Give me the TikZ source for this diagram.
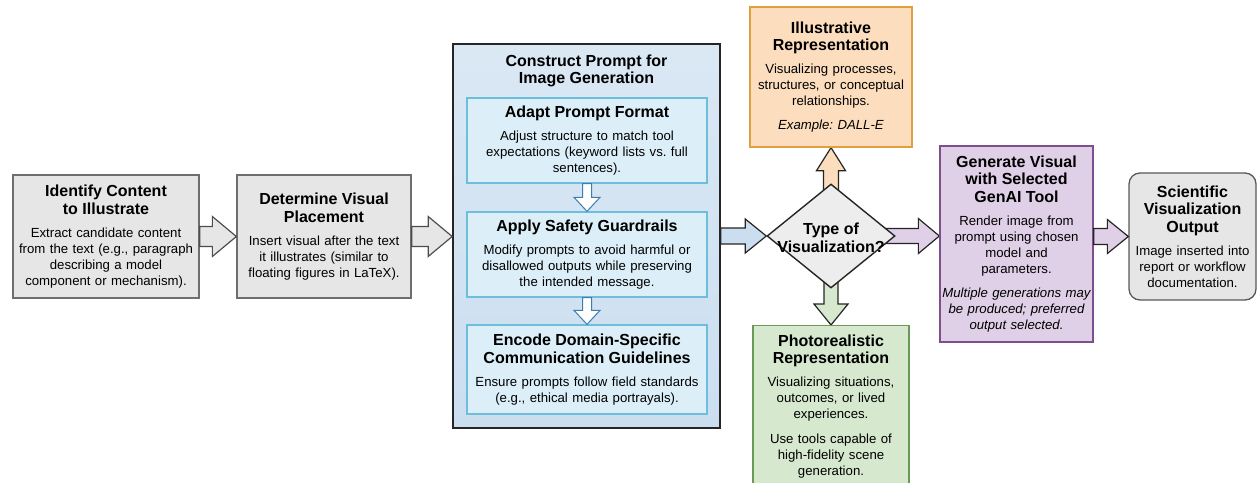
\documentclass[tikz,border=0pt]{standalone}
\usepackage{fontspec}
\setmainfont{Liberation Sans}
\usetikzlibrary{calc, shapes.geometric, backgrounds}

\definecolor{gr1}{HTML}{E6E6E6}
\definecolor{gr2}{HTML}{6E6E6E}
\definecolor{bl1}{HTML}{CBDEF0}
\definecolor{bl2}{HTML}{DCEFF8}
\definecolor{bl3}{HTML}{6CBEDA}
\definecolor{bl4}{HTML}{3C7FB0}
\definecolor{or1}{HTML}{FCDDBE}
\definecolor{or2}{HTML}{E0A040}
\definecolor{gn1}{HTML}{D6E9CF}
\definecolor{gn2}{HTML}{6A9A58}
\definecolor{pu1}{HTML}{DFD0E7}
\definecolor{pu2}{HTML}{7E4E8E}
\definecolor{dk}{HTML}{252525}

\newcommand{\hd}[1]{{\fontsize{16}{17.5}\selectfont\bfseries #1\par}\vspace{7pt}}

% block arrow: style, from, to, shaft half width, head half width, head length
\newcommand{\blockarrow}[6]{%
  \path coordinate (ah) at ($(#3)!#6pt!(#2)$);
  \draw[#1] ($(#2)!#4pt!90:(#3)$) -- ($(ah)!#4pt!90:(#3)$) -- ($(ah)!#5pt!90:(#3)$)
    -- (#3) -- ($(ah)!#5pt!-90:(#3)$) -- ($(ah)!#4pt!-90:(#3)$) -- ($(#2)!#4pt!-90:(#3)$) -- cycle;
}

\tikzset{
  box/.style={draw, line width=1.3pt, align=center, inner xsep=3pt,
    font=\fontsize{13.2}{16}\selectfont\frenchspacing},
  graybox/.style={box, fill=gr1, draw=gr2},
  innerbox/.style={box, fill=bl2, draw=bl3},
  arr/.style={line width=1.2pt, draw=dk, line join=miter},
  ttl/.style={align=center, font=\fontsize{16}{17.5}\selectfont\bfseries},
}

\begin{document}
\begin{tikzpicture}[x=1pt, y=-1pt]
  \useasboundingbox (0,0) rectangle (1258,482);

  % Left steps
  \node[graybox, text width=180pt, minimum height=123pt] (ident) at (106,236.5)
    {\hd{Identify Content\\to Illustrate}Extract candidate content\\from the text (e.g., paragraph\\describing a model\\component or mechanism).};
  \node[graybox, text width=168pt, minimum height=123pt] (place) at (324,236.5)
    {\hd{Determine Visual\\Placement}Insert visual after the text\\it illustrates (similar to\\floating figures in LaTeX).};

  % Prompt construction
  \node[draw=dk, line width=1.6pt, top color=bl1!70!white, bottom color=bl1,
    minimum width=267pt, minimum height=384pt] (construct) at (586.5,236) {};
  \node[ttl] (constructtitle) at (586.5,71) {Construct Prompt for\\Image Generation};
  \node[innerbox, text width=234pt, minimum height=85pt] (adapt) at (587,140.5)
    {\hd{Adapt Prompt Format}Adjust structure to match tool\\expectations (keyword lists vs. full\\sentences).};
  \node[innerbox, text width=234pt, minimum height=85pt] (safety) at (587,254.5)
    {\hd{Apply Safety Guardrails}Modify prompts to avoid harmful or\\disallowed outputs while preserving\\the intended message.};
  \node[innerbox, text width=234pt, minimum height=89pt] (encode) at (587,369.5)
    {\hd{Encode Domain-Specific\\Communication Guidelines}Ensure prompts follow field standards\\(e.g., ethical media portrayals).};

  % Decision
  \node[diamond, draw=dk, fill=gr1!70!white, line width=1.4pt, inner sep=0pt,
    minimum width=128pt, minimum height=104pt] (diam) at (831,236) {};
  \node[ttl] (diamtext) at (831,238) {Type of\\Visualization?};

  % Outcomes
  \node[box, fill=or1, draw=or2, text width=156pt, minimum height=140pt] (illus) at (831,77)
    {\hd{Illustrative\\Representation}Visualizing processes,\\structures, or conceptual\\relationships.\\[8pt]\textit{Example: DALL-E}};
  \node[box, fill=gn1, draw=gn2, text width=150pt, anchor=north, inner ysep=9pt] (photo) at (831,325)
    {\hd{Photorealistic\\Representation}Visualizing situations,\\outcomes, or lived\\experiences.\\[9pt]Use tools capable of\\high-fidelity scene\\generation.\\[34pt]};
  \node[box, fill=pu1, draw=pu2, text width=150pt, inner xsep=1.5pt, minimum height=196pt] (gen) at (1016.5,244)
    {\hd{Generate Visual\\with Selected\\GenAI Tool}Render image from\\prompt using chosen\\model and\\parameters.\\[8pt]\textit{Multiple generations may\\be produced; preferred\\output selected.}};
  \node[box, fill=gr1, draw=gr2!80!black, rounded corners=11pt, text width=124pt, inner xsep=1.5pt, minimum height=127pt] (out) at (1192.5,236.5)
    {\hd{Scientific\\Visualization\\Output}Image inserted into\\report or workflow\\documentation.};

  % Arrows
  \blockarrow{arr, fill=gr1, draw=gr2!70!black}{ident.east}{place.west}{10}{20}{24}
  \blockarrow{arr, fill=gr1, draw=gr2!70!black}{place.east}{construct.west |- place.east}{10}{20}{24}
  \blockarrow{line width=1pt, draw=bl4, fill=white}{adapt.south}{safety.north}{4.5}{13}{14}
  \blockarrow{line width=1pt, draw=bl4, fill=white}{safety.south}{encode.north}{4.5}{13}{14}
  \blockarrow{arr, fill=bl1}{construct.east}{diam.west}{8}{17}{21}
  \begin{scope}[on background layer]
    \blockarrow{arr, fill=or1}{diam.center}{illus.south}{7.5}{14.5}{23}
    \blockarrow{arr, fill=gn1}{diam.center}{photo.north}{7}{17}{21}
    \blockarrow{arr, fill=pu1}{diam.center}{gen.west |- diam.center}{7.5}{17.5}{21}
  \end{scope}
  \blockarrow{arr, fill=pu1}{gen.east |- out.west}{out.west}{8}{17}{21}
\end{tikzpicture}
\end{document}
